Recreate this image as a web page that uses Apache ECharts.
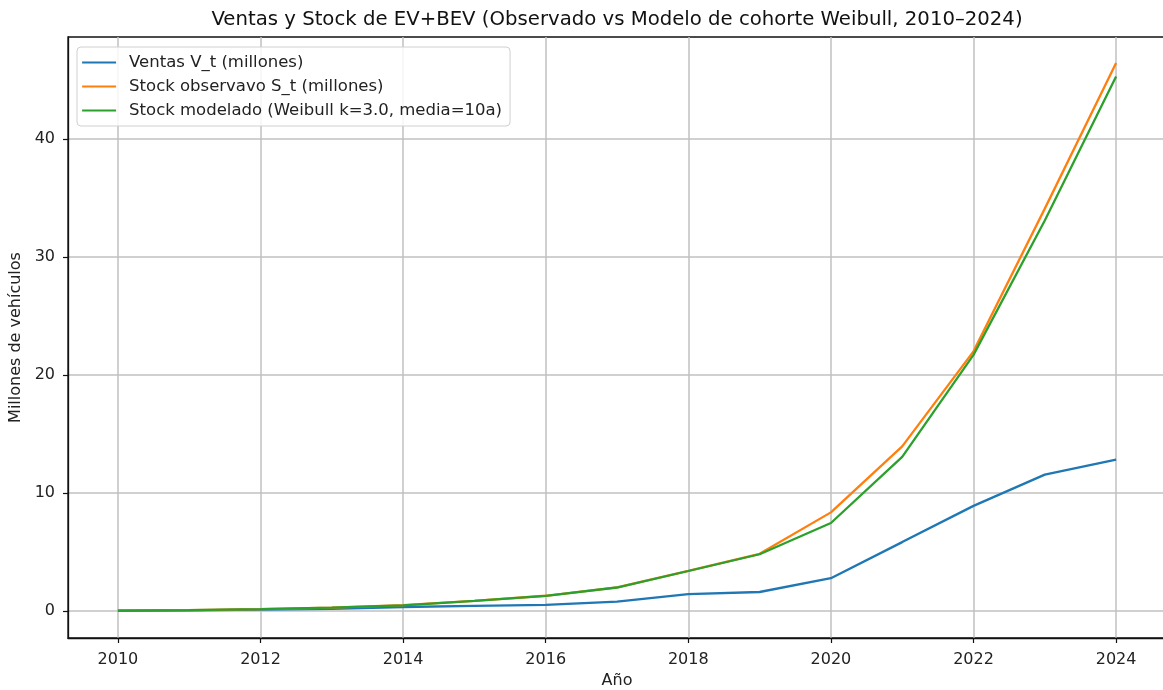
<!DOCTYPE html>
<html>
<head>
<meta charset="utf-8">
<script src="https://cdn.jsdelivr.net/npm/echarts@6/dist/echarts.min.js"></script>
<style>
  html, body { margin: 0; padding: 0; background: #fff; }
  #chart { width: 1163px; height: 690px; }
</style>
</head>
<body>
<div id="chart"></div>
<script>
// Años del periodo analizado
const years = [2010, 2011, 2012, 2013, 2014, 2015, 2016, 2017, 2018, 2019, 2020, 2021, 2022, 2023, 2024];

// Ventas anuales V_t (millones)
const ventas = [0.01, 0.05, 0.10, 0.17, 0.33, 0.42, 0.51, 0.79, 1.42, 1.60, 2.77, 5.83, 8.90, 11.55, 12.82];

// Stock observado S_t (millones)
const stockObservado = [0.02, 0.07, 0.15, 0.28, 0.48, 0.85, 1.28, 2.00, 3.40, 4.84, 8.35, 13.95, 22.00, 34.10, 46.45];

// Stock modelado con cohortes Weibull (k=3.0, media=10 años)
const stockModelado = [0.01, 0.06, 0.14, 0.27, 0.47, 0.84, 1.27, 1.98, 3.38, 4.80, 7.45, 13.05, 21.70, 33.10, 45.30];

// Marcas de los ejes
const xTicks = [2010, 2012, 2014, 2016, 2018, 2020, 2022, 2024];
const yTicks = [0, 10, 20, 30, 40];

const pairs = (vals) => years.map((y, i) => [y, vals[i]]);

const FONT = 'DejaVu Sans';
const TXT = '#222';
const chart = echarts.init(document.getElementById('chart'), null, { renderer: 'canvas' });

chart.setOption({
  animation: false,
  backgroundColor: '#ffffff',
  title: {
    text: 'Ventas y Stock de EV+BEV (Observado vs Modelo de cohorte Weibull, 2010–2024)',
    left: 612,
    textAlign: 'center',
    top: 5,
    textStyle: { fontFamily: FONT, fontSize: 19.7, fontWeight: 'normal', color: '#111' }
  },
  grid: {
    left: 68, top: 37, width: 1098, height: 601,
    outerBoundsMode: 'none',
    containLabel: false,
    show: true, borderColor: '#111', borderWidth: 1.3, backgroundColor: 'transparent'
  },
  legend: {
    orient: 'vertical',
    left: 77, top: 47,
    padding: [7, 8, 7, 4],
    itemGap: 7,
    itemWidth: 34, itemHeight: 14,
    backgroundColor: 'rgba(255,255,255,0.85)',
    borderColor: '#d0d0d0', borderWidth: 1, borderRadius: 4,
    itemStyle: { opacity: 0 },
    lineStyle: { width: 2.2 },
    textStyle: { fontFamily: FONT, fontSize: 16.5, color: TXT, padding: [0, 0, 0, 8] },
    data: ['Ventas V_t (millones)', 'Stock observavo S_t (millones)', 'Stock modelado (Weibull k=3.0, media=10a)']
  },
  xAxis: {
    type: 'value',
    min: 2009.3, max: 2024.7,
    name: 'Año', nameLocation: 'middle', nameGap: 34,
    nameTextStyle: { fontFamily: FONT, fontSize: 16, color: TXT },
    axisLine: { show: true, onZero: false, lineStyle: { color: '#111', width: 1.3 } },
    axisTick: { show: true, length: 5, customValues: xTicks, lineStyle: { color: '#111', width: 1.2 } },
    axisLabel: { customValues: xTicks, margin: 14, fontFamily: FONT, fontSize: 16, color: TXT, formatter: v => String(v) },
    splitLine: { show: true, lineStyle: { color: '#c0c0c0', width: 1.5 } }
  },
  yAxis: {
    type: 'value',
    min: -2.3, max: 48.65,
    name: 'Millones de vehículos', nameLocation: 'middle', nameGap: 40, nameRotate: 90,
    nameTextStyle: { fontFamily: FONT, fontSize: 16, color: TXT },
    axisLine: { show: true, onZero: false, lineStyle: { color: '#111', width: 1.3 } },
    axisTick: { show: true, length: 5, customValues: yTicks, lineStyle: { color: '#111', width: 1.2 } },
    axisLabel: { customValues: yTicks, margin: 13, fontFamily: FONT, fontSize: 16, color: TXT },
    splitLine: { show: true, lineStyle: { color: '#c0c0c0', width: 1.5 } }
  },
  series: [
    {
      name: 'Ventas V_t (millones)', type: 'line', data: pairs(ventas),
      symbol: 'none', lineStyle: { color: '#1f77b4', width: 2.3 }, itemStyle: { color: '#1f77b4' }
    },
    {
      name: 'Stock observavo S_t (millones)', type: 'line', data: pairs(stockObservado),
      symbol: 'none', lineStyle: { color: '#ff7f0e', width: 2.3 }, itemStyle: { color: '#ff7f0e' }
    },
    {
      name: 'Stock modelado (Weibull k=3.0, media=10a)', type: 'line', data: pairs(stockModelado),
      symbol: 'none', lineStyle: { color: '#2ca02c', width: 2.3 }, itemStyle: { color: '#2ca02c' }
    }
  ]
});
</script>
</body>
</html>
